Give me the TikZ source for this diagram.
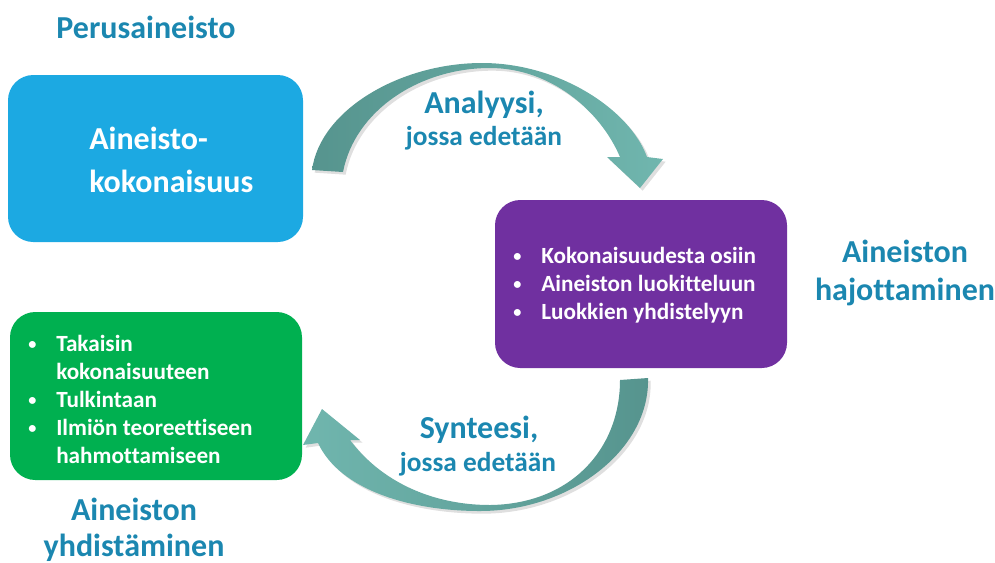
\documentclass[tikz,border=0pt]{standalone}
\usepackage{fontspec}
\setmainfont[Ligatures=NoCommon]{Carlito}
\usetikzlibrary{positioning,shadows}

\definecolor{boxblue}{RGB}{28,169,226}
\definecolor{boxpurple}{RGB}{112,48,160}
\definecolor{boxgreen}{RGB}{0,176,80}
\definecolor{titleblue}{RGB}{27,135,176}
\definecolor{arrowdark}{RGB}{86,148,142}
\definecolor{arrowlight}{RGB}{112,182,174}

\newcommand\bul{\makebox[21pt][l]{\raisebox{1.2pt}{\scalebox{0.7}{\textbullet}}}}

\tikzset{
  box/.style={rounded corners=19pt, minimum width=292*0.75pt, minimum height=168*0.75pt, inner sep=0pt},
  boxtext/.style={text=white, font=\bfseries\fontsize{17.4}{21}\selectfont, align=left, anchor=west, inner sep=0pt},
  heading/.style={text=titleblue, font=\bfseries\fontsize{24}{28.5}\selectfont, align=center, inner sep=0pt},
  band/.style={drop shadow={opacity=0.25, shadow xshift=2pt, shadow yshift=-2pt}},
}

\begin{document}
\begin{tikzpicture}[x=0.75pt, y=-0.75pt]
\useasboundingbox (0,0) rectangle (995,562);

% boxes
\node (whole) [box, fill=boxblue, minimum width=295*0.75pt, minimum height=167*0.75pt] at (155.5,158.5) {};
\node (parts) [box, fill=boxpurple] at (641,284) {};
\node (back) [box, fill=boxgreen] at (156,396) {};

\node (wholetext) [boxtext, font=\bfseries\fontsize{24}{32.5}\selectfont] at (89,160) {Aineisto-\\kokonaisuus};
\node (partslist) [boxtext] at (513,285) {\bul Kokonaisuudesta osiin\\\bul Aineiston luokitteluun\\\bul Luokkien yhdistelyyn};
\node (backlist) [boxtext] at (28,399) {\bul Takaisin\\\hspace*{21pt}kokonaisuuteen\\\bul Tulkintaan\\\bul Ilmiön teoreettiseen\\\hspace*{21pt}hahmottamiseen};

% curved arrows
\path[band, left color=arrowdark, right color=arrowlight]
  (312,170) .. controls (320,110) and (400,63) .. (482,63)
  .. controls (560,63) and (630,110) .. (647,157)
  -- (663,159) -- (640,188) -- (607,157) -- (620,157)
  .. controls (600,110) and (550,68) .. (490,68)
  .. controls (420,68) and (355,110) .. (343,172) -- cycle;
\path[band, left color=arrowlight, right color=arrowdark]
  (648,378) .. controls (650,450) and (570,511) .. (480,511)
  .. controls (410,511) and (340,490) .. (318,443)
  -- (303,445) -- (322,409) -- (360,440) -- (350,440)
  .. controls (380,480) and (430,505) .. (490,505)
  .. controls (570,504) and (620,450) .. (620,380) -- cycle;

% labels
\node (perus) [heading] at (146,27) {Perusaineisto};
\node (split) [heading] at (905,273) {Aineiston\\hajottaminen};
\node (merge) [heading, font=\bfseries\fontsize{24}{27}\selectfont] at (134,530) {Aineiston\\yhdistäminen};
\node (analysis) [heading, anchor=base] at (484,113) {Analyysi,};
\node (analysisway) [heading, font=\bfseries\fontsize{20.5}{24}\selectfont, anchor=base] at (484,145) {jossa edetään};
\node (synthesis) [heading, anchor=base] at (479,438) {Synteesi,};
\node (synthesisway) [heading, font=\bfseries\fontsize{20.5}{24}\selectfont, anchor=base] at (478,471) {jossa edetään};
\end{tikzpicture}
\end{document}
